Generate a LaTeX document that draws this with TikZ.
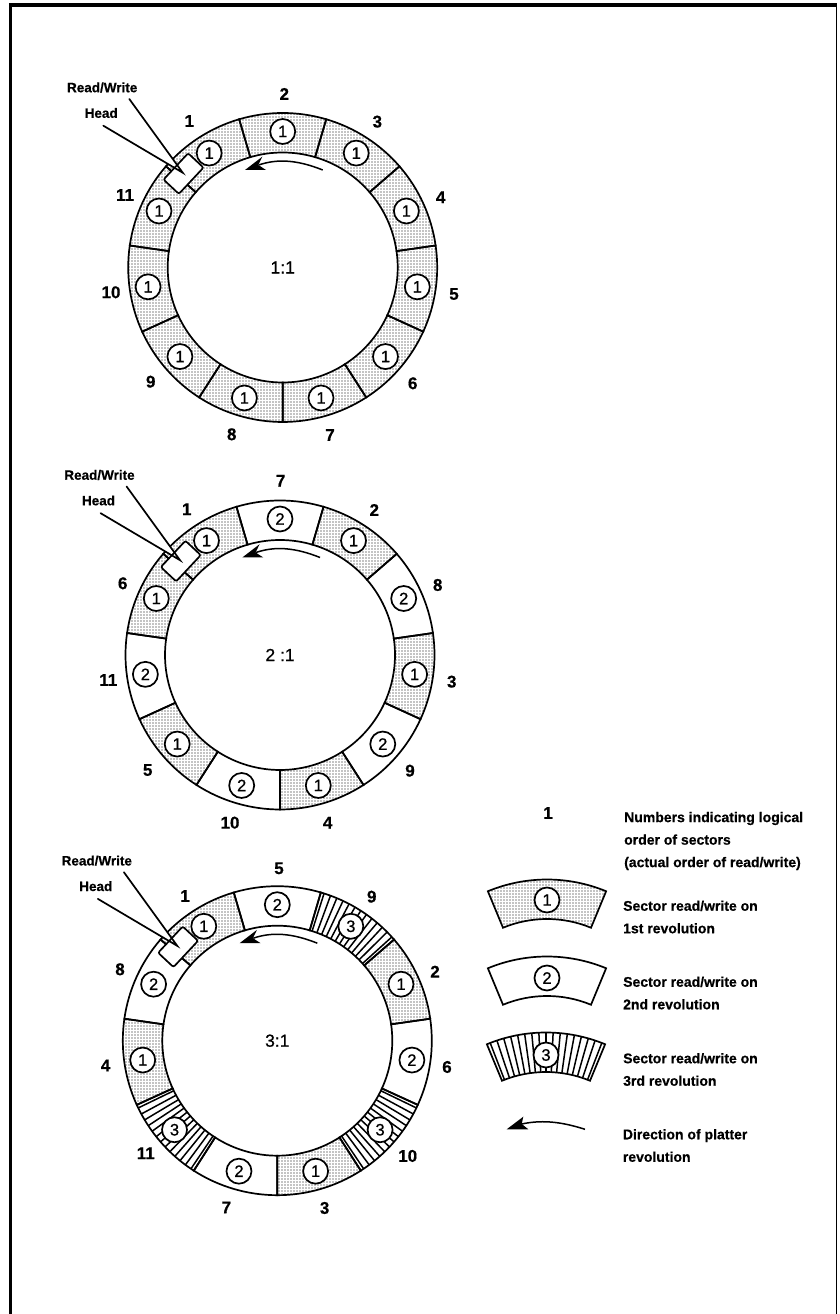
\documentclass[tikz,border=0pt]{standalone}
\usepackage{fontspec}
\setmainfont{Liberation Sans}
\newfontfamily\semibf[FakeBold=0.7]{Liberation Sans}
\newfontfamily\heavybf[FakeBold=0.5]{Liberation Sans Bold}
\usetikzlibrary{patterns.meta}
\tikzset{
  x=1pt,y=1pt,
  rimline/.style={line width=1.7pt,black},
  hatchline/.style={line width=1.5pt,black},
  dotfill/.style={pattern={Dots[radius=0.7pt,distance=3pt]},pattern color=black},
  numcirc/.style={circle,draw,fill=white,line width=1.7pt,minimum size=25pt,inner sep=0pt,font=\semibf\fontsize{16.5}{16.5}\selectfont},
  seclabel/.style={inner sep=0pt,font=\heavybf\fontsize{17}{17}\selectfont},
  headtext/.style={inner sep=0pt,font=\heavybf\fontsize{13.5}{14}\selectfont},
  ratio/.style={inner sep=0pt,font=\semibf\fontsize{17.5}{17.5}\selectfont},
  legtext/.style={inner sep=0pt,anchor=west,align=left,font=\heavybf\fontsize{14}{22.5}\selectfont},
  leader/.style={line width=1.7pt,line cap=round},
  headbox/.style={rectangle,draw,fill=white,line width=1.7pt,rounded corners=2pt,minimum width=36pt,minimum height=21pt,inner sep=0pt,rotate=46.9},
}
% annular sector: start angle, end angle, type, number of hatch lines
\newcommand{\annsector}[4]{%
  \ifnum#3=1 \path[dotfill] (#1:115) arc[start angle=#1,end angle=#2,radius=115] -- (#2:154.5) arc[start angle=#2,end angle=#1,radius=154.5] -- cycle;\fi
  \ifnum#3=3
    \foreach \j in {1,...,#4}{%
      \pgfmathsetmacro{\hh}{#1+(\j-0.5)*(#2-(#1))/#4}%
      \draw[hatchline] (\hh:115) -- (\hh:154.5);}%
  \fi
  \draw[rimline] (#1:115) -- (#1:154.5) arc[start angle=#1,end angle=#2,radius=154.5] -- (#2:115) arc[start angle=#2,end angle=#1,radius=115] -- cycle;
}
% disk: cx, cy(px from top), prefix, types list, ratio text
\newcommand{\platter}[5]{%
\begin{scope}[shift={(#1,1314-#2)}]
  \foreach \t [count=\i from 0] in {#4}{%
    \pgfmathsetmacro{\aa}{270+\i*360/11}%
    \pgfmathsetmacro{\bb}{270+(\i+1)*360/11}%
    \annsector{\aa}{\bb}{\t}{13}%
  }
  \foreach \t [count=\i from 0] in {#4}{%
    \pgfmathsetmacro{\mm}{270+(\i+0.5)*360/11}%
    \node[numcirc] (#3c\i) at (\mm:136) {\t};
  }
  \node[ratio] (#3r) at (0,0) {#5};
  % head and leaders
  \coordinate (#3tip) at (-100,94.8);
  \node[headtext] (#3rw) at (-180.5,180) {Read/Write};
  \node[headtext] (#3hd) at (-181.5,154.5) {Head};
  \coordinate (#3rws) at (-153.4,168.5);
  \coordinate (#3hds) at (-179.4,141.8);
  \fill[white] (#3tip) -- (-124,127.8) -- (-131.8,113.7) -- cycle;
  \node[headbox] (#3box) at (-99.2,93.9) {};
  \draw[leader] (#3rws) -- (#3tip) -- (#3hds);
  % rotation arrow
  \coordinate (#3a0) at (40,97.5);
  \coordinate (#3a1) at (-24,102.5);
  \draw[line width=1.5pt] (#3a0) .. controls (15,107.5) and (-5,109) .. (#3a1);
  \fill (-37.7,97.5) -- (-20.4,110.8) -- (-24.4,102.5) -- (-16.7,97.5) -- cycle;
\end{scope}}
\newcommand{\seclab}[4]{\node[seclabel] (#1) at (#2,1314-#3) {#4};}
\begin{document}
\begin{tikzpicture}
\useasboundingbox (0,0) rectangle (839,1314);
% frame
\draw[line width=3.5pt] (10.5,0) -- (10.5,1314-5);
\draw[line width=3.5pt] (8.75,1314-5) -- (837.3,1314-5);
\draw[line width=1.6pt] (836.5,1314-5) -- (836.5,0);

\platter{282.7}{267.5}{a}{1,1,1,1,1,1,1,1,1,1,1}{1:1}
\platter{280}{655}{b}{1,2,1,2,1,2,1,1,2,1,2}{2 :1}
\platter{277.3}{1040.7}{c}{1,3,2,1,3,2,1,2,1,3,2}{3:1}

% sector numbers, disk 1
\seclab{a2}{284.3}{94}{2}
\seclab{a3}{377.3}{121.7}{3}
\seclab{a4}{440.7}{197.3}{4}
\seclab{a5}{454}{294}{5}
\seclab{a6}{412.7}{383.3}{6}
\seclab{a7}{330}{435}{7}
\seclab{a8}{231.7}{434.3}{8}
\seclab{a9}{150.7}{381.7}{9}
\seclab{a10}{111}{292.3}{10}
\seclab{a11}{125}{195}{11}
\seclab{a1}{189.3}{121}{1}
% disk 2
\seclab{b7}{280.7}{480.7}{7}
\seclab{b2}{374.3}{510}{2}
\seclab{b8}{437.7}{585}{8}
\seclab{b3}{451.7}{681.7}{3}
\seclab{b9}{410}{770.7}{9}
\seclab{b4}{327.7}{822.7}{4}
\seclab{b10}{230}{822.7}{10}
\seclab{b5}{147.7}{770}{5}
\seclab{b11}{108.3}{680}{11}
\seclab{b6}{122.7}{583.3}{6}
\seclab{b1}{186.7}{509.3}{1}
% disk 3
\seclab{c5}{279}{868.3}{5}
\seclab{c9}{371.7}{896.7}{9}
\seclab{c2}{435}{971.7}{2}
\seclab{c6}{447}{1067}{6}
\seclab{c10}{407.7}{1156}{10}
\seclab{c3}{324.6}{1208}{3}
\seclab{c7}{226.3}{1207.5}{7}
\seclab{c11}{145.7}{1153.3}{11}
\seclab{c4}{105.6}{1065.5}{4}
\seclab{c8}{120}{969.3}{8}
\seclab{c1}{185}{896}{1}

% legend
\seclab{l0}{548}{813}{1}
\node[legtext] (t0) at (624,1314-841) {Numbers indicating logical\\order of sectors\\(actual order of read/write)};

\begin{scope}[shift={(547,1314-1034)}]
  \annsector{67.5}{112.5}{1}{17}
  \node[numcirc] (l1) at (0,134) {1};
\end{scope}
\node[legtext] (t1) at (623,1314-917) {Sector read/write on\\1st revolution};

\begin{scope}[shift={(547,1314-1111)}]
  \annsector{67.5}{112.5}{2}{17}
  \node[numcirc] (l2) at (0,133) {2};
\end{scope}
\node[legtext] (t2) at (623,1314-993) {Sector read/write on\\2nd revolution};

\begin{scope}[shift={(546,1314-1187)}]
  \annsector{67.5}{112.5}{3}{17}
  \node[numcirc] (l3) at (0,132) {3};
\end{scope}
\node[legtext] (t3) at (623,1314-1069.5) {Sector read/write on\\3rd revolution};

\coordinate (la0) at (585,1314-1129.3);
\coordinate (la1) at (521.7,1314-1124);
\draw[line width=1.5pt] (la0) .. controls (565,1314-1123) and (545,1314-1119) .. (la1);
\fill (506.7,1314-1129.3) -- (523.3,1314-1116.7) -- (521.7,1314-1124) -- (528.3,1314-1129.3) -- cycle;
\node[legtext] (t4) at (622.7,1314-1145.5) {Direction of platter\\revolution};
\end{tikzpicture}
\end{document}
